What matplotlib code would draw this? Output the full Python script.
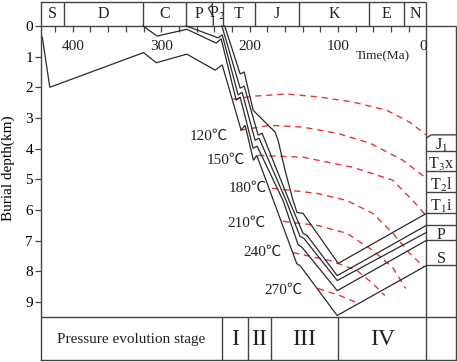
import matplotlib
matplotlib.use('Agg')
import matplotlib.pyplot as plt

plt.rcParams['font.family'] = ['Liberation Serif', 'Noto Sans CJK SC', 'DejaVu Serif']
plt.rcParams['mathtext.fontset'] = 'stix'

# ---------------- data ----------------
# geological periods (header)
period_names = ['S', 'D', 'C', 'P', r'P$_2$', 'T', 'J', 'K', 'E', 'N']
period_bounds = [436.3, 409.6, 320.9, 272.0, 242.2, 230.5, 193.9, 143.8, 64.7, 25.4, 0]
p2_boundary_age = [242.2, 242.2, 246.7, 241.1, 241.1]
p2_boundary_depth = [-0.78, -0.68, -0.58, -0.30, 0.0]

# time ticks
time_minor = [420, 400, 380, 360, 340, 320, 300, 280, 260, 240, 220, 200,
              180, 160, 140, 120, 100, 80, 60, 40, 20]
time_labels = [400, 300, 200, 100, 0]

# burial history curves (age Ma, depth km)
s_age = [434.5, 426, 320, 305.5, 271, 239, 231, 209.6, 205.1, 195.7, 191.9, 146.7, 143, 101, 0]
s_depth = [0.37, 2.0, 0.87, 1.20, 0.92, 1.44, 1.27, 3.40, 3.24, 4.38, 4.22, 7.75, 7.81, 9.44, 7.81]

c_age = [320.5, 304.7, 270.9, 237.8, 232.2, 215.2, 210.7, 196.0, 191.5, 162.2, 145.3, 140.7, 100.9, 0]
c_depth = [0, 0.33, 0.11, 0.56, 0.42, 2.42, 2.32, 3.99, 3.92, 5.69, 7.12, 7.22, 8.63, 6.99]

p_age = [271.7, 235.6, 231.0, 213.0, 208.5, 193.8, 189.3, 158.8, 143.0, 138.5, 100.9, 0]
p_depth = [0, 0.39, 0.29, 2.25, 2.16, 3.73, 3.66, 5.69, 6.86, 6.93, 8.30, 6.73]

t1_age = [231.4, 210.7, 206.2, 190.4, 185.9, 155.4, 139.6, 135.1, 100.9, 0]
t1_depth = [0, 2.03, 1.96, 3.56, 3.50, 5.69, 6.76, 6.83, 8.14, 6.50]

t2_age = [228.2, 210.7, 206.2, 196.0, 171.2, 167.8, 159.9, 150.9, 146.4, 139.6, 99.8, 0]
t2_depth = [0, 1.57, 1.50, 2.75, 3.46, 3.73, 4.71, 5.69, 6.08, 6.11, 7.74, 6.11]

burial_curves = [(s_age, s_depth), (c_age, c_depth), (p_age, p_depth),
                 (t1_age, t1_depth), (t2_age, t2_depth)]

# isotherms
iso0_age = [218.6, 196.0, 157.7, 120.4, 83.2, 44.9, 18.8, 0]
iso0_depth = [2.39, 2.29, 2.22, 2.32, 2.48, 2.75, 3.14, 3.56]
iso120_age = [210.7, 176.9, 139.6, 101.2, 64.0, 26.7, 0]
iso120_depth = [3.40, 3.24, 3.30, 3.50, 3.82, 4.38, 4.97]
iso150_age = [190.4, 139.6, 83.2, 38.0, 15.5, 0.5]
iso150_depth = [4.22, 4.28, 4.61, 5.03, 5.69, 6.18]
iso180_age = [174.6, 123.8, 90.0, 60.6, 38.0, 18.8, 3.0]
iso180_depth = [5.29, 5.46, 5.69, 6.11, 6.76, 7.42, 7.85]
iso210_age = [162.2, 123.8, 90.0, 60.6, 38.0, 23.4]
iso210_depth = [6.37, 6.50, 6.76, 7.32, 7.88, 8.56]
iso240_age = [150.9, 109.1, 78.7, 60.6, 47.1]
iso240_depth = [7.39, 7.65, 7.97, 8.40, 8.79]
iso270_age = [122.7, 97.9, 78.7]
iso270_depth = [8.56, 8.79, 9.02]
isotherms = [(iso0_age, iso0_depth), (iso120_age, iso120_depth), (iso150_age, iso150_depth),
             (iso180_age, iso180_depth), (iso210_age, iso210_depth),
             (iso240_age, iso240_depth), (iso270_age, iso270_depth)]

temp_labels = ['120℃', '150℃', '180℃', '210℃', '240℃', '270℃']
temp_label_age = [224.5, 205.3, 180.7, 182.6, 163.7, 139.7]
temp_label_depth = [3.59, 4.37, 5.31, 6.42, 7.37, 8.61]

# formations (right column)
formation_lines = [3.55, 4.08, 4.72, 5.40, 6.09, 6.49, 6.98, 7.79]
formation_names = [r'J$_1$', r'T$_3$x', r'T$_2$l', r'T$_1$i', '', 'P', 'S']

# pressure evolution stages
stage_bounds = [231.6, 201.5, 176.2, 99.7, 0]
stage_names = ['I', 'II', 'III', 'IV']

# ---------------- layout ----------------
X_LEFT, X_RIGHT = 436.3, -33.4
Y_TOP, Y_BOT = -0.78, 10.89
MAIN_BOT = 9.48
FRAME = '#444444'
LINE = '#2a2a2a'
RED = '#e8323c'

fig = plt.figure(figsize=(4.57, 3.62), dpi=100)
ax = fig.add_axes([40.7 / 457, 2 / 362, (456 - 40.7) / 457, 358 / 362])
ax.set_xlim(X_LEFT, X_RIGHT)
ax.set_ylim(Y_BOT, Y_TOP)
for side in ['top', 'right']:
    ax.spines[side].set_visible(False)
for side in ['left', 'bottom']:
    ax.spines[side].set_color(FRAME)
    ax.spines[side].set_linewidth(1.0)

ax.set_xticks([])
ax.set_yticks(list(range(10)))
ax.tick_params(axis='y', direction='out', length=4, width=0.9, color=FRAME,
               labelsize=11, pad=1.5)
ax.set_ylabel('Burial depth(km)', fontsize=11)
ax.yaxis.set_label_coords(-0.063, 0.536)

kw = dict(color=FRAME, lw=1.0, clip_on=False, solid_capstyle='butt')
# outer frame pieces
ax.plot([X_LEFT, 0], [Y_TOP, Y_TOP], **kw)
ax.plot([0, 0], [Y_TOP, Y_BOT], **kw)
ax.plot([X_LEFT, X_RIGHT], [0, 0], **kw)
ax.plot([X_RIGHT, X_RIGHT], [0, Y_BOT], **kw)
ax.plot([X_LEFT, X_RIGHT], [MAIN_BOT, MAIN_BOT], **kw)

# header
for b in period_bounds[1:-1]:
    if b == 242.2:
        continue
    ax.plot([b, b], [Y_TOP, 0], **kw)
ax.plot(p2_boundary_age, p2_boundary_depth, **kw)
for i, name in enumerate(period_names):
    cx = (period_bounds[i] + period_bounds[i + 1]) / 2
    ax.text(cx, -0.40, name, ha='center', va='center', fontsize=11.5, color='#222')

# time ticks
ax.vlines(time_minor, 0, 0.2, color=FRAME, lw=0.9)
for t in time_labels:
    if t == 0:
        ax.text(t - 0.5, 0.68, str(t), ha='right', va='center', fontsize=11, color='#222')
    else:
        ax.text(t, 0.68, str(t), ha='center', va='center', fontsize=11, color='#222')
ax.text(49.6, 1.0, 'Time(Ma)', ha='center', va='center', fontsize=9.5, color='#222')

# right column formations
ax.plot([0, -5.5, X_RIGHT], [formation_lines[0] + 0.1, formation_lines[0], formation_lines[0]], **kw)
for d in formation_lines[1:]:
    ax.plot([0, X_RIGHT], [d, d], **kw)
for i, name in enumerate(formation_names):
    if name:
        ax.text(X_RIGHT / 2, formation_lines[i + 1] - 0.05, name, ha='center', va='baseline',
                fontsize=11.5, color='#222')

# stages
for b in stage_bounds[:-1]:
    ax.plot([b, b], [MAIN_BOT, Y_BOT], **kw)
ax.text((X_LEFT + stage_bounds[0]) / 2, 10.22, 'Pressure evolution stage', ha='center',
        va='center', fontsize=11, color='#222')
for i, name in enumerate(stage_names):
    cx = (stage_bounds[i] + stage_bounds[i + 1]) / 2
    ax.text(cx, 10.22, name, ha='center', va='center', fontsize=17, color='#222')

# isotherms
for a, d in isotherms:
    ax.plot(a, d, color=RED, lw=1.0, dashes=(4.5, 3.5))

# burial curves
for a, d in burial_curves:
    ax.plot(a, d, color=LINE, lw=0.9, solid_joinstyle='miter')

# temperature labels
for lab, a, d in zip(temp_labels, temp_label_age, temp_label_depth):
    ax.text(a, d, lab, ha='right', va='center', fontsize=11, color='#222')

fig.savefig('out.png', dpi=100)
